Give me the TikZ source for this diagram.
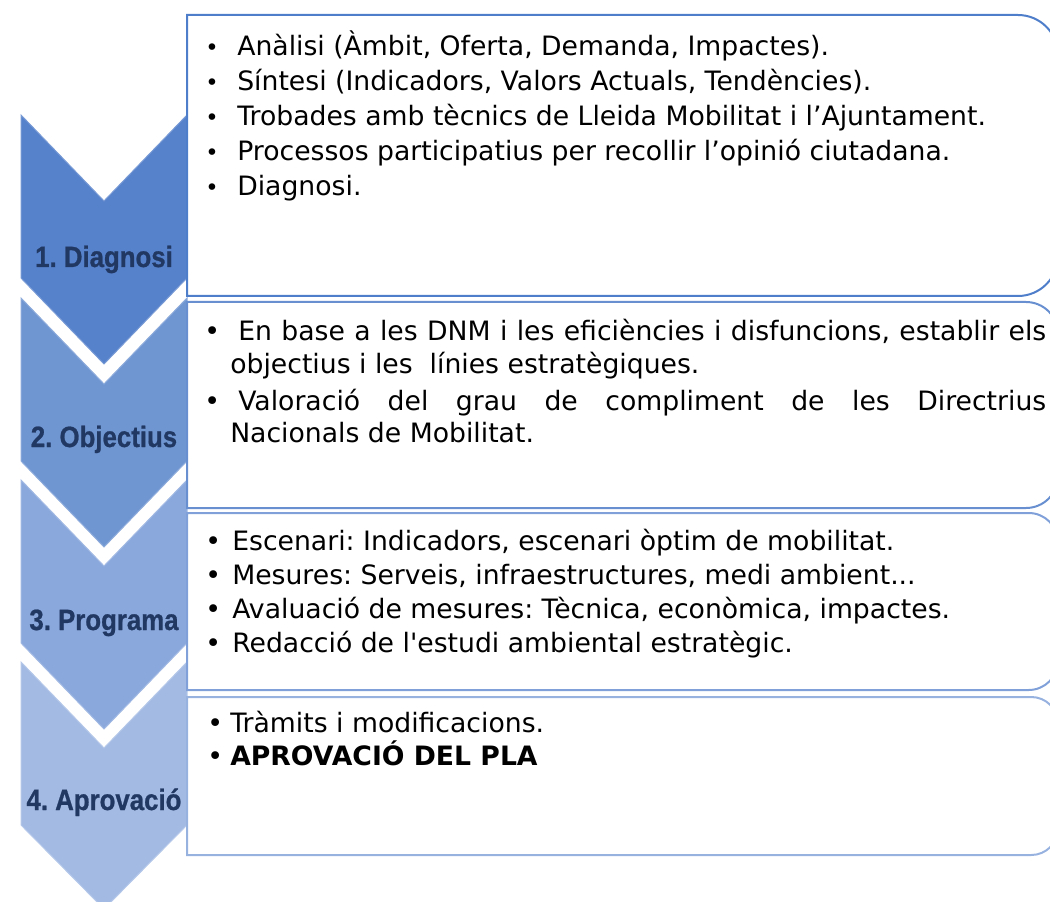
\documentclass[tikz,border=0pt]{standalone}
\usepackage{fontspec}
\setmainfont{DejaVu Sans}[Ligatures=TeXOff]
\newfontfamily\stagefont{Liberation Sans}[FakeStretch=0.88, BoldFeatures={FakeBold=0.8}]
\definecolor{chevA}{RGB}{86,129,203}
\definecolor{chevB}{RGB}{112,150,210}
\definecolor{chevC}{RGB}{138,168,220}
\definecolor{chevD}{RGB}{163,186,227}
\definecolor{panelA}{RGB}{78,126,202}
\definecolor{panelB}{RGB}{104,144,209}
\definecolor{panelC}{RGB}{128,160,217}
\definecolor{panelD}{RGB}{152,178,224}
\definecolor{stagetext}{RGB}{33,56,99}
\newcommand{\entry}[3]{\hangindent=#1\hangafter=1\noindent\makebox[#1][l]{#2}#3\par}
\newcommand{\smallbul}{{\fontsize{17}{17}\selectfont\textbullet}}
\frenchspacing

\begin{document}
\begin{tikzpicture}[x=0.75pt, y=-0.75pt,
  stage/.style={font=\stagefont\bfseries\fontsize{22}{26}\selectfont, text=stagetext, inner sep=0pt, anchor=base},
  items/.style={inner sep=0pt, anchor=base west},
  panel/.style={line width=1.5pt},
  chevron/.style={line width=0.75pt}
]
\useasboundingbox (0,0) rectangle (1050,902);
\clip (0,0) rectangle (1050,902);

% chevrons
\filldraw[chevron, fill=chevA, draw=chevA!80!white] (21,115) -- (104,201) -- (187,115) -- (187,278) -- (104,364) -- (21,278) -- cycle;
\filldraw[chevron, fill=chevB, draw=chevB!80!white] (21,298) -- (104,384) -- (187,298) -- (187,461) -- (104,547) -- (21,461) -- cycle;
\filldraw[chevron, fill=chevC, draw=chevC!80!white] (21,480) -- (104,566) -- (187,480) -- (187,643) -- (104,729) -- (21,643) -- cycle;
\filldraw[chevron, fill=chevD, draw=chevD!80!white] (21,662) -- (104,748) -- (187,662) -- (187,825) -- (104,909) -- (21,825) -- cycle;

% panels, rounded on the right only
\draw[panel, draw=panelA] (187,15) [rounded corners=30pt] -- (1058,15) -- (1058,296) [sharp corners] -- (187,296) -- cycle;
\draw[panel, draw=panelB] (187,302) [rounded corners=24pt] -- (1058,302) -- (1058,508) [sharp corners] -- (187,508) -- cycle;
\draw[panel, draw=panelC] (187,513) [rounded corners=22pt] -- (1058,513) -- (1058,690) [sharp corners] -- (187,690) -- cycle;
\draw[panel, draw=panelD] (187,697) [rounded corners=20pt] -- (1058,697) -- (1058,855) [sharp corners] -- (187,855) -- cycle;

\node[stage] (diagnosi) at (104,267) {1. Diagnosi};
\node[stage] (objectius) at (104,447) {2. Objectius};
\node[stage] (programa) at (104,630) {3. Programa};
\node[stage] (aprovacio) at (104,810) {4. Aprovació};

\node[items] (diagnosi list) at (205,56) {\parbox[t]{620pt}{\fontsize{20}{26.1}\selectfont\raggedright
  \entry{24pt}{\smallbul}{Anàlisi (Àmbit, Oferta, Demanda, Impactes).}
  \entry{24pt}{\smallbul}{Síntesi (Indicadors, Valors Actuals, Tendències).}
  \entry{24pt}{\smallbul}{Trobades amb tècnics de Lleida Mobilitat i l’Ajuntament.}
  \entry{24pt}{\smallbul}{Processos participatius per recollir l’opinió ciutadana.}
  \entry{24pt}{\smallbul}{Diagnosi.}}};

\node[items] (objectius list) at (204,340) {\parbox[t]{631.5pt}{\fontsize{20}{24.75}\selectfont\tolerance=10000\parskip=3pt
  \entry{19.5pt}{\textbullet}{\hspace{6pt}En base a les DNM i les eficiències i disfuncions, establir els\linebreak objectius i les\ \ línies estratègiques.}
  \entry{19.5pt}{\textbullet}{\hspace{6pt}Valoració del grau de compliment de les Directrius\linebreak Nacionals de Mobilitat.}}};

\node[items] (programa list) at (205,550) {\parbox[t]{620pt}{\fontsize{20}{25.7}\selectfont\raggedright
  \entry{20.25pt}{\textbullet}{Escenari: Indicadors, escenari òptim de mobilitat.}
  \entry{20.25pt}{\textbullet}{Mesures: Serveis, infraestructures, medi ambient...}
  \entry{20.25pt}{\textbullet}{Avaluació de mesures: Tècnica, econòmica, impactes.}
  \entry{20.25pt}{\textbullet}{Redacció de l'estudi ambiental estratègic.}}};

\node[items] (aprovacio list) at (207,732) {\parbox[t]{620pt}{\fontsize{20}{24.75}\selectfont\raggedright
  \entry{17.25pt}{\textbullet}{Tràmits i modificacions.}
  \entry{17.25pt}{\textbullet}{\textbf{APROVACIÓ DEL PLA}}}};
\end{tikzpicture}
\end{document}
